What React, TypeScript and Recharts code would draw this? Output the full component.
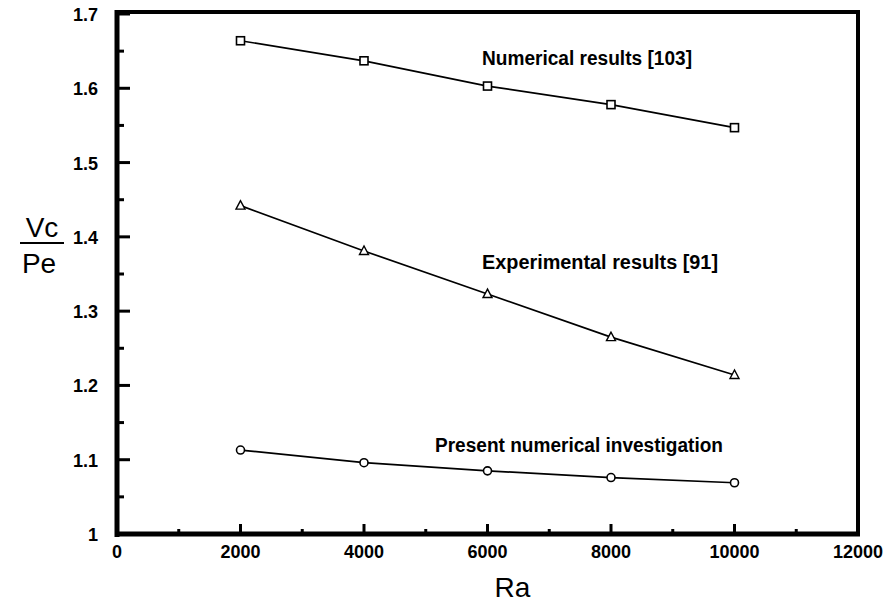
import React from 'react';
import { LineChart, Line, XAxis, YAxis, ReferenceDot } from 'recharts';

const raValues = [2000, 4000, 6000, 8000, 10000];
const numericalResults = [1.664, 1.637, 1.603, 1.578, 1.547];
const experimentalResults = [1.442, 1.381, 1.323, 1.265, 1.214];
const presentResults = [1.113, 1.096, 1.085, 1.076, 1.069];

const xMajorTicks = [0, 2000, 4000, 6000, 8000, 10000, 12000];
const xMinorTicks = [1000, 3000, 5000, 7000, 9000, 11000];
const yMajorTicks = [1, 1.1, 1.2, 1.3, 1.4, 1.5, 1.6, 1.7];
const yMinorTicks = [1.05, 1.15, 1.25, 1.35, 1.45, 1.55, 1.65];

const annotations = [
  { ra: 5911, v: 1.641, text: 'Numerical results [103]', width: 210 },
  { ra: 5911, v: 1.366, text: 'Experimental results [91]', width: 236 },
  { ra: 5150, v: 1.12, text: 'Present numerical investigation', width: 288 },
];

const data = raValues.map((ra, i) => ({
  ra,
  numerical: numericalResults[i],
  experimental: experimentalResults[i],
  present: presentResults[i],
}));

const FONT = '"Liberation Sans", Arial, Helvetica, sans-serif';

const Square = (p: any) => (
  <rect x={p.cx - 4} y={p.cy - 4} width={8} height={8} fill="#fff" stroke="#000" strokeWidth={1.6} />
);
const Triangle = (p: any) => (
  <polygon
    points={`${p.cx},${p.cy - 5} ${p.cx - 4.5},${p.cy + 3.5} ${p.cx + 4.5},${p.cy + 3.5}`}
    fill="#fff"
    stroke="#000"
    strokeWidth={1.4}
  />
);
const Circle = (p: any) => <circle cx={p.cx} cy={p.cy} r={4} fill="#fff" stroke="#000" strokeWidth={1.6} />;

const YTick = ({ x, y, payload }: any) => {
  const major = yMajorTicks.includes(payload.value);
  return (
    <g>
      <line x1={x} y1={y} x2={x + (major ? 13 : 7)} y2={y} stroke="#000" strokeWidth={3} />
      {major && (
        <text x={x - 19} y={y + 7} textAnchor="end" fontFamily={FONT} fontWeight="bold" fontSize={18} fill="#000">
          {String(payload.value)}
        </text>
      )}
    </g>
  );
};

const XTick = ({ x, y, payload }: any) => {
  const major = xMajorTicks.includes(payload.value);
  return (
    <g>
      <line x1={x} y1={y} x2={x} y2={y - (major ? 10 : 5)} stroke="#000" strokeWidth={3} />
      {major && (
        <text x={x} y={y + 24} textAnchor="middle" fontFamily={FONT} fontWeight="bold" fontSize={18} fill="#000">
          {payload.value}
        </text>
      )}
    </g>
  );
};

// draws the heavy frame round the plot, from the y axis viewBox
const Frame = ({ viewBox }: any) => {
  const { x, y, width, height } = viewBox;
  const left = x + width;
  const right = 858;
  const bottom = y + height;
  return (
    <g>
      <line x1={left} y1={y - 2} x2={right + 2} y2={y - 2} stroke="#000" strokeWidth={4} />
      <line x1={right} y1={y - 3} x2={right} y2={bottom} stroke="#000" strokeWidth={4} />
      <line x1={left} y1={y - 4} x2={left} y2={bottom + 3} stroke="#000" strokeWidth={5} />
      <line x1={left - 2} y1={bottom} x2={right + 2} y2={bottom} stroke="#000" strokeWidth={5} />
      <g fontFamily={FONT} fontSize={28} fill="#000">
        <text x={42} y={237} textAnchor="middle">Vc</text>
        <line x1={20} y1={243} x2={64} y2={243} stroke="#000" strokeWidth={2} />
        <text x={39} y={273} textAnchor="middle">Pe</text>
      </g>
    </g>
  );
};

export default function App() {
  return (
    <div style={{ position: 'absolute', left: 0, top: 0, width: 892, height: 609, background: '#fff' }}>
      <LineChart width={892} height={609} data={data} margin={{ top: 14, right: 34, left: 0, bottom: 0 }}>
        <XAxis
          dataKey="ra"
          type="number"
          domain={[0, 12000]}
          ticks={[...xMajorTicks, ...xMinorTicks].sort((a, b) => a - b)}
          interval={0}
          height={75}
          tickSize={0}
          tickMargin={0}
          tickLine={false}
          axisLine={false}
          tick={<XTick />}
          label={{
            content: (props: any) => {
              const vb = props.viewBox;
              return (
                <text x={vb.x + vb.width / 2 + 25} y={vb.y + 63} textAnchor="middle" fontFamily={FONT} fontSize={28} fill="#000">
                  Ra
                </text>
              );
            },
          }}
        />
        <YAxis
          type="number"
          domain={[1, 1.7]}
          ticks={[...yMajorTicks, ...yMinorTicks].sort((a, b) => a - b)}
          interval={0}
          width={117}
          tickSize={0}
          tickMargin={0}
          tickLine={false}
          axisLine={false}
          tick={<YTick />}
          label={{ content: (props: any) => <Frame viewBox={props.viewBox} /> }}
        />
        <Line dataKey="numerical" stroke="#000" strokeWidth={1.7} dot={<Square />} isAnimationActive={false} />
        <Line dataKey="experimental" stroke="#000" strokeWidth={1.7} dot={<Triangle />} isAnimationActive={false} />
        <Line dataKey="present" stroke="#000" strokeWidth={1.7} dot={<Circle />} isAnimationActive={false} />
        {annotations.map((a) => (
          <ReferenceDot
            key={a.text}
            x={a.ra}
            y={a.v}
            r={0}
            ifOverflow="visible"
            shape={(p: any) => (
              <text
                x={p.cx}
                y={p.cy + 7}
                fontFamily={FONT}
                fontWeight="bold"
                fontSize={20}
                textLength={a.width}
                lengthAdjust="spacingAndGlyphs"
                fill="#000"
              >
                {a.text}
              </text>
            )}
          />
        ))}
      </LineChart>
    </div>
  );
}
